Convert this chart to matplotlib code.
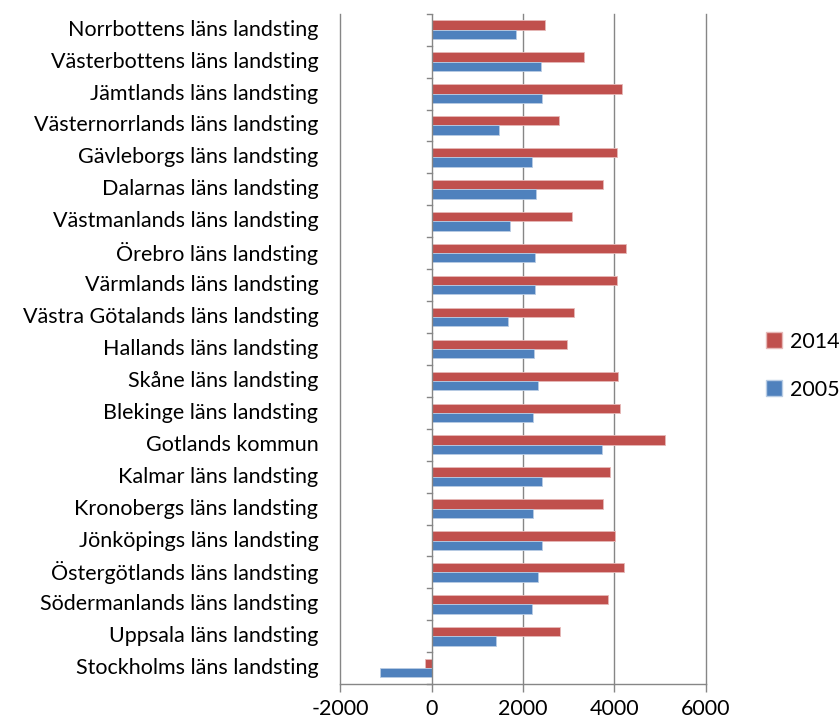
import matplotlib
matplotlib.use("Agg")
import matplotlib.pyplot as plt
from matplotlib.transforms import blended_transform_factory
from matplotlib.patches import Patch
import numpy as np

categories = [
    "Norrbottens läns landsting",
    "Västerbottens läns landsting",
    "Jämtlands läns landsting",
    "Västernorrlands läns landsting",
    "Gävleborgs läns landsting",
    "Dalarnas läns landsting",
    "Västmanlands läns landsting",
    "Örebro läns landsting",
    "Värmlands läns landsting",
    "Västra Götalands läns landsting",
    "Hallands läns landsting",
    "Skåne läns landsting",
    "Blekinge läns landsting",
    "Gotlands kommun",
    "Kalmar läns landsting",
    "Kronobergs läns landsting",
    "Jönköpings läns landsting",
    "Östergötlands läns landsting",
    "Södermanlands läns landsting",
    "Uppsala läns landsting",
    "Stockholms läns landsting",
]
values_2014 = [2490, 3340, 4170, 2790, 4060, 3760, 3070, 4260, 4060, 3120, 2970,
               4090, 4120, 5120, 3910, 3760, 4010, 4210, 3860, 2820, -150]
values_2005 = [1840, 2390, 2410, 1470, 2190, 2290, 1720, 2270, 2270, 1670, 2240,
               2340, 2220, 3740, 2410, 2220, 2410, 2340, 2190, 1420, -1130]
series_names = ["2014", "2005"]
x_ticks = [-2000, 0, 2000, 4000, 6000]

plt.rcParams['font.family'] = ['Lato', 'DejaVu Sans']

fig = plt.figure(figsize=(8.4, 7.24), dpi=100)
ax = fig.add_axes([0.405, 0.055, 0.435, 0.926])

red = "#C0504D"
blue = "#4F81BD"
grid = "#868686"
fs = 15.5

n = len(categories)
y = np.arange(n)[::-1].astype(float)
h = 0.29
ax.barh(y + h / 2, values_2014, height=h, color=red, edgecolor="#E6B8B7", linewidth=0.6, zorder=3)
ax.barh(y - h / 2, values_2005, height=h, color=blue, edgecolor="#B8CCE4", linewidth=0.6, zorder=3)

ax.set_xlim(-2000, 6000)
ax.set_ylim(-0.5, n - 0.5)
ax.set_xticks(x_ticks)
ax.set_xticklabels([str(t) for t in x_ticks], fontsize=fs, color="#000000")
ax.tick_params(axis='x', length=6, color=grid, width=1, pad=5)

for t in x_ticks:
    if t != 0:
        ax.axvline(t, color=grid, lw=1, zorder=1, clip_on=False)

for s in ['top', 'right', 'left']:
    ax.spines[s].set_visible(False)
ax.spines['bottom'].set_color(grid)
ax.spines['bottom'].set_linewidth(1)

# category axis at 0
ax.axvline(0, color=grid, lw=1, zorder=4)
ax.set_yticks([])
for b in np.arange(-0.5, n, 1.0):
    ax.plot([-110, 0], [b, b], color=grid, lw=1, clip_on=False, zorder=4)

trans = blended_transform_factory(ax.transAxes, ax.transData)
for yi, lab in zip(y, categories):
    ax.text(-0.06, yi, lab, transform=trans, ha='right', va='center', fontsize=fs, color="#000000")

handles = [Patch(facecolor=red, edgecolor="#E6B8B7"), Patch(facecolor=blue, edgecolor="#B8CCE4")]
fig.legend(handles, series_names, loc='center left', bbox_to_anchor=(0.912, 0.495),
           frameon=False, fontsize=fs, handlelength=0.75, handleheight=0.75,
           labelspacing=1.3, handletextpad=0.35, borderpad=0, borderaxespad=0)

fig.savefig("out.png", dpi=100)
